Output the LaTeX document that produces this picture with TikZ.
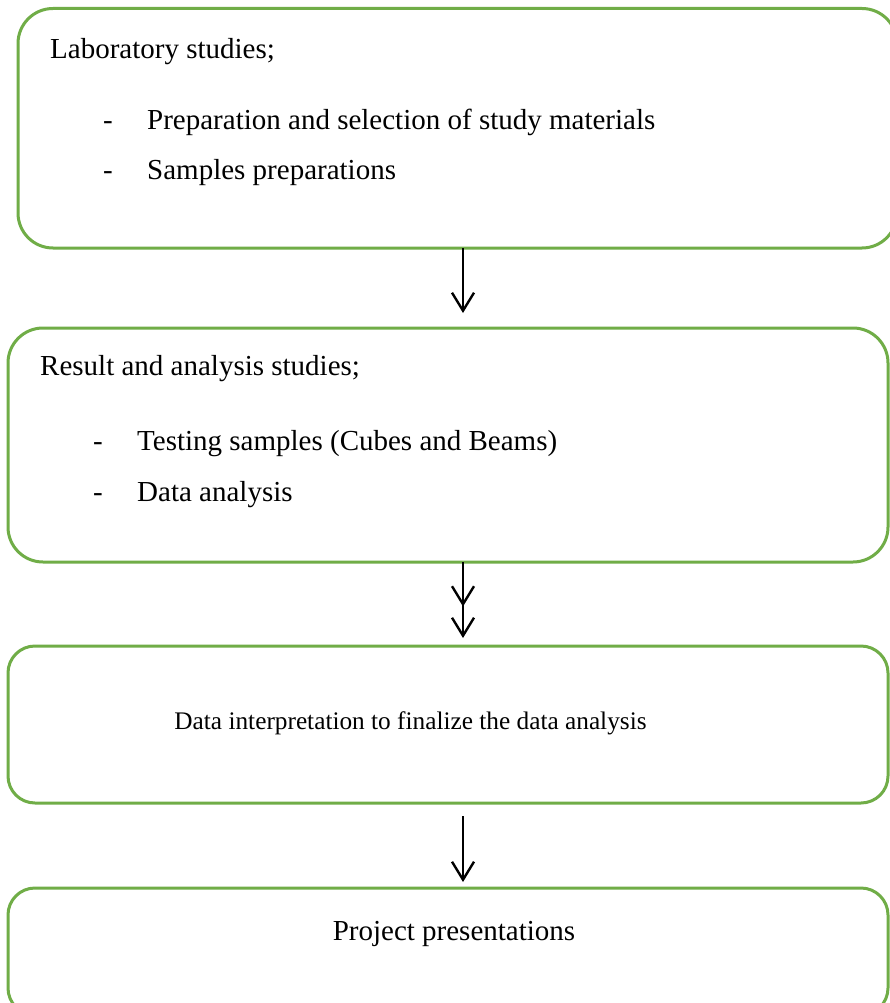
\documentclass[tikz,border=0pt]{standalone}
\usepackage{fontspec}
\setmainfont{Liberation Serif}
\usetikzlibrary{arrows.meta}
\definecolor{boxgreen}{HTML}{70AD47}
\begin{document}
\begin{tikzpicture}[x=1pt,y=-1pt,
  box/.style={draw=boxgreen, line width=3pt, rectangle, inner sep=0pt, outer sep=0pt},
  txt/.style={anchor=base west, inner sep=0pt, font=\fontsize{29}{35}\selectfont},
  ctxt/.style={anchor=base, inner sep=0pt, font=\fontsize{29}{35}\selectfont},
  tipv/.tip={Straight Barb[length=18pt,width=22pt]},
  arr/.style={line width=2.4pt, -{tipv}},
  darr/.style={line width=2.4pt, -{Straight Barb[length=18pt,width=22pt,sep=10pt] Straight Barb[length=18pt,width=22pt]}},
]
\useasboundingbox (0,0) rectangle (890,1003);
\fill[white] (0,0) rectangle (890,1003);

\node[box, rounded corners=35pt, minimum width=879pt, minimum height=239.5pt] (b1) at (457.5,128.25) {};
\node[box, rounded corners=35pt, minimum width=880pt, minimum height=234pt] (b2) at (448,445) {};
\node[box, rounded corners=27pt, minimum width=880pt, minimum height=157pt] (b3) at (448,724.5) {};
\node[box, rounded corners=27pt, minimum width=880pt, minimum height=127pt] (b4) at (448,951.5) {};

\node[txt] (t1) at (50,58.5) {Laboratory studies;};
\node[txt] (d1) at (103,130) {-};
\node[txt] (t2) at (147,130) {Preparation and selection of study materials};
\node[txt] (d2) at (103,180) {-};
\node[txt] (t3) at (147,180) {Samples preparations};

\node[txt] (t4) at (40,375.7) {Result and analysis studies;};
\node[txt] (d3) at (93,450) {-};
\node[txt] (t5) at (137,450) {Testing samples (Cubes and Beams)};
\node[txt] (d4) at (93,501) {-};
\node[txt] (t6) at (137,501) {Data analysis};

\node[ctxt, font=\fontsize{25.3}{30}\selectfont] (t7) at (410.5,729) {Data interpretation to finalize the data analysis};
\node[ctxt] (t8) at (454,940) {Project presentations};

\coordinate (ax) at (463,0);
\draw[arr, shorten >=15pt] (b1.south -| ax) -- (b2.north -| ax);
\draw[darr, shorten >=8pt] (b2.south -| ax) -- (b3.north -| ax);
\draw[arr, shorten <=13pt, shorten >=6pt] (b3.south -| ax) -- (b4.north -| ax);
\end{tikzpicture}
\end{document}
